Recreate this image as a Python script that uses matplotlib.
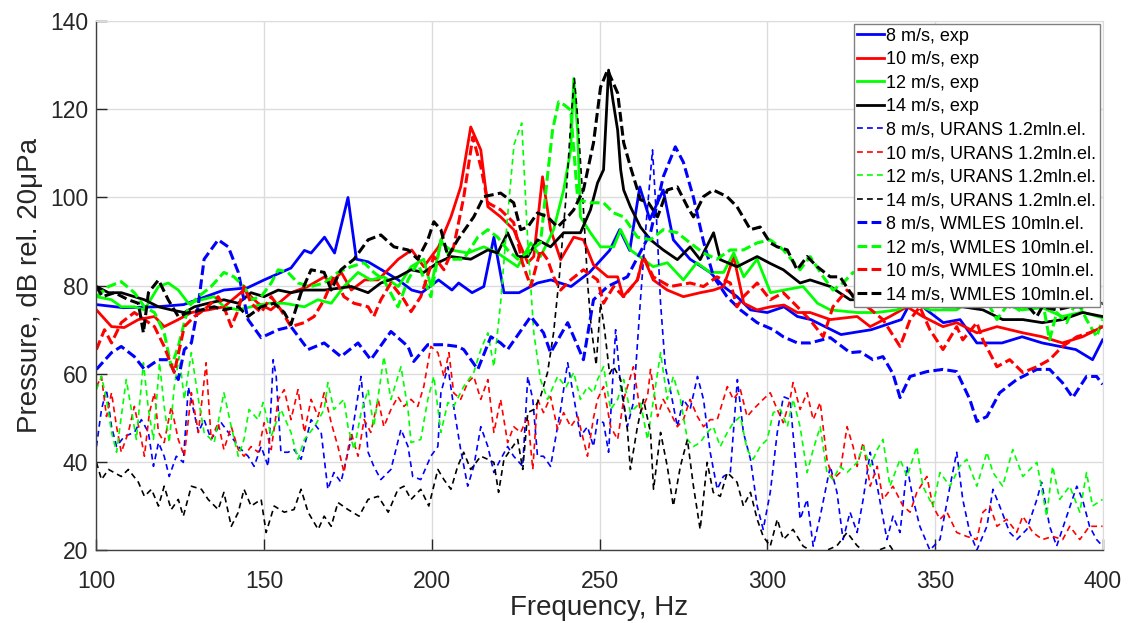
import matplotlib
matplotlib.use("Agg")
import matplotlib.pyplot as plt

plt.rcParams["font.family"] = ["Liberation Sans", "DejaVu Sans"]


# =========================================================
# Data
# =========================================================

# --- experiment ---
F_EXP_8 = [100, 108, 118, 126, 138, 145, 150, 158, 162, 164, 168, 171, 175, 177.5, 181, 185, 190, 194, 197, 202,
           206, 208, 212, 215.5, 218.5, 221.5, 226, 231.5, 235.5, 241.5, 247, 253, 256, 259, 262, 265, 269, 272,
           277, 283, 287, 291, 295, 300, 305, 309, 313, 322, 331, 340, 343.5, 347.5, 352.5, 357.5, 362.5, 370,
           376, 382, 392, 397, 400]
P_EXP_8 = [75.7, 75, 75.2, 75.7, 79, 79.5, 81.3, 84, 88, 87.4, 91, 87.4, 100, 86, 85.4, 83.6, 81.3, 79, 78.4, 81.3,
           79, 80.6, 78.4, 79.8, 91, 78.4, 78.4, 80.6, 81.3, 79.8, 83, 88, 92.7, 88, 102.4, 95, 101.7, 90.4,
           86, 83, 79.8, 77.5, 74.5, 73.9, 75.2, 73, 72.3, 68.9, 70, 72.3, 77.3, 74.5, 71.6, 72.3, 67, 67,
           68.4, 67, 65.5, 63.2, 67.7]

F_EXP_10 = [100, 104.5, 108.3, 112.5, 117.3, 120.2, 124.4, 128.3, 133.3, 138, 144, 148.2, 152, 158, 163, 168, 170,
            173, 176, 180, 184, 190, 194, 197.6, 202, 205.7, 208.6, 211.6, 214.6, 216.7, 220.5, 224.4, 228.6,
            230.4, 233, 235.4, 238.4, 242.3, 245.2, 248.2, 252.4, 255.4, 257, 261.3, 263, 266, 270.2, 275, 280,
            284, 287, 290, 293, 297, 301, 305, 309, 312.8, 318.8, 326.8, 330.7, 336.6, 341.7, 346.4, 352.4,
            356.5, 362.5, 368.5, 376.2, 382, 388, 394, 400]
P_EXP_10 = [74.5, 70.7, 70.5, 72.3, 73, 70.7, 72.3, 73.9, 74.5, 75.2, 79, 76, 74.5, 78.4, 79.8, 82, 80.6,
            83, 79, 81.3, 81.3, 86, 88.1, 84.3, 88.8, 95.6, 102.4, 116, 110.8, 97.9, 95.6, 92.7, 85.2,
            86.6, 104.7, 92.7, 85.9, 91, 90.4, 84.7, 82, 82, 77.5, 81.3, 86.6, 81.3, 79, 77.5, 78.4,
            79, 79.8, 86.6, 76, 74.5, 75.2, 75.6, 73.9, 73.9, 72.3, 73, 70.7, 73, 75.2, 73, 70.7,
            71.6, 69.3, 70.7, 69.3, 68.4, 67, 68.4, 70.7]

F_EXP_12 = [100, 104.5, 107.4, 111.3, 114.3, 118.5, 121.4, 124.4, 127.4, 131.3, 135.1, 138, 142.3, 146.1, 151.2,
            156, 162, 166, 170, 173.8, 178, 181.8, 185.7, 190, 193.8, 197.6, 199.7, 202.7, 205.7, 210.7, 215.5,
            219.6, 225.6, 229.5, 232.4, 236.3, 239.3, 241.4, 242.3, 243.5, 244.3, 247.3, 250.3, 254.2, 256.3,
            259.2, 263, 266, 270.2, 275, 279, 283, 287, 290, 293, 297, 301, 305, 310.7, 315, 318.8, 326.8,
            332.7, 338.7, 343.5, 348.5, 356.5, 360.4, 364.3, 370, 376, 382, 388, 394, 400]
P_EXP_12 = [77.5, 76.8, 75.2, 75.2, 74.5, 79.8, 80.6, 79, 76, 76.8, 77.5, 75.2, 74.5, 75.2, 76,
            76, 75.2, 76.8, 76, 79.8, 83, 81.3, 82, 79.8, 84.3, 86, 79.8, 89.7, 88.1, 87.4, 88.8,
            87.4, 84.3, 89.7, 86.6, 92.7, 101.7, 110.8, 127, 114.6, 95.6, 92, 88.8, 88.8, 92.7,
            88.1, 86, 84.3, 85.2, 81.3, 85.2, 83, 83, 87.4, 82, 86, 78.4, 79, 79.8, 76, 74.5, 73.9,
            73.9, 74.5, 76, 74.5, 74.5, 76.8, 78.4, 76, 74.5, 75, 73, 74, 72.7]

F_EXP_14 = [100, 103.6, 107.4, 111.3, 114.3, 118.5, 122.3, 126.2, 129.2, 133.3, 138, 142.3, 146.1, 150, 154.2,
            158, 162, 168, 176, 181, 184.8, 190, 193.8, 197.6, 201.8, 205.7, 211.6, 216.7, 219.6, 222.6, 225.6,
            228.6, 231.5, 235.4, 239.3, 244.3, 247.3, 249.4, 251.2, 252.7, 254, 255.4, 256.3, 257.2, 259.2,
            262.2, 265.2, 269, 273.2, 277, 280, 284, 286, 291, 297, 301, 304.8, 309.8, 312.8, 318.8, 324.7,
            330.7, 338, 346.4, 352.4, 358.3, 364.3, 370.2, 376.2, 382, 388, 394, 400]
P_EXP_14 = [79.8, 78.4, 78.4, 77.5, 76.8, 75.2, 74.5, 73.9, 75.2, 76, 76.8, 76, 78.4, 77.5, 79,
            78.4, 79, 79, 79.8, 78.4, 80.6, 82, 83.6, 83, 85.2, 86.6, 86, 88.1, 87.4, 92, 86.6,
            86.6, 90.4, 88.8, 92, 92, 97.2, 103.3, 106.3, 128.9, 122, 115.3, 106.3, 101.7, 97.9,
            93.3, 90.4, 88.1, 85.9, 88.8, 85.9, 92, 85.9, 84.3, 86.6, 85, 83.6, 80.6, 81.3, 79.8, 76.8,
            76.8, 77, 76, 75.2, 75.2, 74.5, 72.3, 72.3, 71.6, 72.3, 73.9, 73]

# --- URANS 1.2 mln elements ---
F_URANS_8 = [100, 101.5, 103, 104.5, 106, 108.3, 111.3, 113.4, 115.5, 117,
             118.5, 120.2, 121.7, 123.8, 125.9, 127.4, 130.4, 132.1, 134.2, 137.2,
             140.2, 142.3, 145.2, 147, 149.1, 151.2, 152.7, 153.6, 155, 157.1,
             158.9, 161, 164, 167, 169, 170.8, 172.9, 175.9, 178.9, 181,
             182.7, 184.8, 187.8, 190.8, 192.9, 194.3, 196.7, 199.7, 201.8, 202.7,
             204.8, 206.5, 208.6, 210.7, 212.5, 214.6, 216.7, 218.5, 220.5, 222.6,
             224.4, 227.1, 228.6, 230.1, 231.5, 233.3, 235.4, 238.4, 240.5, 242.3,
             244.3, 246.4, 248.2, 249.4, 251.2, 252.7, 254.8, 256.3, 258.3, 260.1,
             262.2, 264, 265.8, 267, 268.2, 269.6, 271.1, 273.2, 275, 277,
             279.2, 281, 283, 285.1, 286.9, 289, 291.1, 292.9, 295, 297,
             298.8, 300.9, 303, 304.8, 306.8, 308.9, 309.8, 311.9, 313.7, 315.8,
             318.8, 320.8, 322.6, 324.7, 326.8, 328.6, 330.7, 332.8, 335.7, 337.5,
             339.6, 341.7, 343.5, 345.5, 348.5, 351.5, 354.5, 356.5, 358.3, 360.4,
             362.5, 365.5, 367.3, 369.3, 372.3, 374.4, 377.4, 380.4, 381.8, 384.2,
             386.3, 389.3, 392.3, 394, 396.1, 398.2, 400]
P_URANS_8 = [43.5, 51.9, 56.4, 48, 43.5, 45.8, 46.7, 49.6, 46.7, 39,
             44.4, 41.3, 36.7, 41.3, 39.9, 57, 46.7, 49.6, 45.1, 48.9,
             45.8, 43.5, 41.3, 39, 43.5, 39, 63.2, 59.4, 42.2, 42.2,
             42.8, 40.6, 49.6, 46.7, 33.8, 37.6, 35.4, 45.1, 59.4, 42.2,
             39, 36, 38.3, 47.4, 43.5, 36.7, 36, 41.3, 43.5, 55.7,
             61.6, 52.6, 42.8, 34.5, 39, 48, 43.5, 37.6, 40.6, 43.5,
             41.3, 39, 59.4, 54.2, 41.3, 41.3, 39, 51.9, 62.5, 54.8,
             45.8, 48, 43.5, 49.6, 48.9, 42.2, 70, 57.1, 48, 53.5,
             76.8, 95, 110.8, 95, 76, 61.6, 56.4, 48, 54.2, 51.9,
             59.4, 54.2, 42.2, 33.8, 36.7, 37.6, 58.7, 46.7, 40.6, 30,
             24.7, 33.1, 46.7, 54.8, 54.2, 36, 27, 31.5, 20.9, 27.7,
             39, 33.1, 22.4, 28.6, 24, 31.5, 42.2, 34.5, 22.4, 27.7,
             24, 39, 31.5, 25.4, 20, 22.4, 34.5, 42.2, 31.5, 24,
             20, 25.4, 33.8, 30, 24, 22.4, 24.7, 31.5, 35.4, 25.4,
             20.9, 27.7, 34.5, 31.5, 25.4, 22.4, 20.9]

F_URANS_10 = [100, 101.5, 103, 104.5, 106, 107.4, 109.5, 111.3, 113.4, 114.3,
              115.8, 117.3, 118.5, 120.2, 122.3, 124.4, 126.2, 128.3, 130.4, 132.7,
              134.2, 136.3, 138, 140.2, 142.3, 144, 146.1, 148.2, 150, 152.1,
              154.2, 156, 158, 160.1, 162, 164, 166.1, 167.9, 170, 172,
              173.8, 175.9, 178, 179.8, 181.8, 184, 185.7, 187.8, 189.9, 191.7,
              193.8, 195.8, 197.6, 199.7, 201.8, 203.6, 205.1, 206.5, 208.6, 210.7,
              212.5, 214.6, 216.7, 218.5, 220.5, 222.6, 224.4, 226.5, 228.6, 230.1,
              231.5, 233.3, 235.4, 237.5, 239.3, 241.4, 243.5, 246.4, 248.2, 249.4,
              251.2, 253.3, 255.4, 257.2, 260.1, 262.2, 264.3, 265.2, 267.3, 269,
              271.1, 273.2, 275, 277, 279.2, 281, 283, 285.1, 288.1, 289.9,
              292, 294, 295.8, 298.8, 300.9, 303, 304.8, 306.8, 307.7, 309.8,
              311.9, 313.7, 315.8, 317.8, 319.6, 321.7, 323.8, 325.6, 326.8, 328.6,
              330.7, 332.8, 334.5, 337.5, 340.5, 342.6, 344.6, 347.6, 349.4, 351.5,
              353.6, 356.5, 359.5, 362.5, 364.3, 366.4, 368.5, 371.4, 374.4, 376.2,
              379.2, 382.1, 385.1, 388.1, 390.2, 393.2, 396.1, 400]
P_URANS_10 = [57.1, 59.4, 50.3, 55.7, 48, 42.2, 46.7, 52.6, 45.1, 41.3,
              51.2, 55.7, 46.7, 44.4, 52.6, 45.1, 41.3, 55.7, 46.7, 62.5,
              45.1, 48.9, 42.8, 48, 42.8, 41.3, 43.5, 42.2, 48.9, 42.8,
              54.2, 56.4, 49.6, 56.4, 46.7, 54.2, 50.3, 55.7, 48.9, 43.5,
              37.6, 46.7, 41.3, 49.6, 46.7, 54.2, 48, 51.9, 54.8, 52.6,
              54.2, 52.6, 57.1, 66.2, 64.8, 59.4, 64.8, 55.7, 54.2, 58,
              59.4, 54.2, 58.7, 46.7, 54.2, 44.4, 48, 46.7, 50.3, 38.3,
              54.2, 51.2, 54.8, 47.4, 51.2, 48, 50.3, 41.3, 50, 54.2,
              57.1, 48, 45.1, 54.2, 61.6, 51.2, 54.8, 61, 50.3, 54.2,
              51.2, 48, 49.6, 54.2, 50.3, 48, 49.6, 49.6, 57.1, 54.2,
              56.4, 50.3, 51.9, 54.2, 55.7, 51.9, 48.9, 54.2, 58, 51.9,
              55.7, 49.6, 53.5, 40.6, 36, 37.6, 48, 43.5, 39, 44.4,
              34.5, 39, 31.5, 34.5, 30, 28.6, 33.1, 36.7, 30, 27,
              28.6, 24, 23.1, 22.4, 28.6, 30, 25.4, 27, 24, 27.7,
              24, 22.4, 23.1, 22.4, 25.4, 22.4, 25.4, 25.4]

F_URANS_12 = [100, 101.5, 103, 104.5, 106, 107.4, 108.9, 110.4, 111.9, 114,
              115.5, 117, 118.8, 120.2, 121.7, 123.2, 124.7, 126.2, 128.3, 130.4,
              132.1, 135.1, 138, 140.2, 142.3, 144, 145.5, 148.2, 149.7, 152.1,
              155, 158, 160.1, 162, 165, 167.9, 169, 170.8, 173.8, 175,
              176.8, 178.9, 181, 182.7, 185.7, 187.8, 190.8, 192.9, 193.8, 196.7,
              198.8, 200.6, 202.7, 204.8, 206.5, 209.5, 212.5, 214.6, 216.7, 218.5,
              220.5, 222.5, 224.5, 226.8, 228.6, 230.4, 232.4, 234.5, 237.5, 240,
              242.3, 244.3, 246.4, 248.2, 249.4, 251.2, 253.3, 255.4, 257.2, 259.2,
              262.2, 264.3, 266.1, 268.2, 270.2, 272, 274.1, 276.2, 278, 280,
              282.1, 283.9, 286, 288.1, 289.9, 292, 294, 295.8, 297.9, 300,
              301.8, 303.9, 306, 307.7, 309.8, 311.9, 313.7, 315.8, 317.8, 319.6,
              321.7, 323.8, 326.8, 328.6, 330.7, 332.8, 334.5, 336.6, 339.6, 341.7,
              344.6, 346.4, 349.4, 351.5, 354.5, 357.4, 359.5, 362.5, 365.5, 367.3,
              370.2, 373.2, 376.2, 380.4, 383.3, 385.1, 387.2, 390.2, 393.2, 395.2,
              397, 400]
P_URANS_12 = [56.4, 59.4, 54.2, 46.7, 42.2, 50.3, 58.7, 51.9, 45.1, 62.5,
              51.9, 45.1, 62.5, 52.6, 44.4, 57.1, 63.9, 54.2, 64.8, 54.2,
              46.7, 44.4, 55.7, 48, 41.3, 45.1, 51.9, 49.6, 53.5, 45.8,
              51.9, 46.7, 40.6, 45.1, 48, 51.9, 58, 51.9, 54.2, 48,
              42.8, 51.2, 56.4, 48, 63.9, 54.2, 61.6, 51.9, 44.4, 45.1,
              54.2, 59.4, 46.7, 53.5, 52.6, 57.1, 60.3, 65.5, 69.3, 61.6,
              76, 95, 112, 116.9, 90, 69.3, 58.7, 54.2, 59.4, 57,
              60.3, 54.2, 57.1, 55.7, 58.7, 61.6, 51.9, 54.2, 58.7, 51.2,
              53.5, 45.1, 54.2, 64.8, 54.2, 59.4, 54.2, 45.1, 43.5, 44.4,
              46.7, 48, 43.5, 46.7, 48.9, 50.3, 42.8, 40.6, 43.5, 45.1,
              51.2, 51.9, 48, 54.2, 48, 37.6, 42.8, 48, 37.6, 36,
              39, 37.6, 39.9, 43.5, 39, 42.8, 45.1, 34.5, 40.6, 36.7,
              43.5, 34.5, 30, 37.6, 34.5, 39, 40.6, 34.5, 42.2, 37.6,
              34.5, 42.8, 36.7, 39.9, 27.7, 39, 31.5, 34.5, 28.6, 37.6,
              30, 31.5]

F_URANS_14 = [100, 101.5, 103.6, 107.4, 109.5, 112.5, 114.3, 116.4, 118.5, 120.2,
              122.3, 124.4, 125.9, 128.3, 131.3, 133.3, 136.3, 138, 140.2, 142.3,
              144, 146.1, 149.1, 150.6, 153, 156, 158.9, 161, 163.1, 166.1,
              167.9, 170, 172, 175, 178.3, 181, 184, 187, 189.9, 191.7,
              193.8, 196.7, 199.1, 201.8, 203.6, 205.7, 207.7, 209.5, 211.6, 214.6,
              216.7, 218.5, 219.9, 221.5, 223.5, 225.6, 227.1, 228.6, 230.4, 232.4,
              234.5, 236.3, 238, 240, 241.5, 242.5, 243.5, 245, 246.5, 247.5,
              249, 250.3, 251.5, 253, 254.2, 256.3, 258.3, 259.2, 261.3, 263.1,
              265.2, 266.1, 268.2, 270.2, 272, 274.1, 276.2, 278, 280, 282.1,
              283.9, 286, 288.1, 291, 292.9, 295, 297, 298.8, 300.9, 303,
              304.8, 307.7, 310.7, 315, 320.8, 323.8, 326.8, 330, 336.6, 340]
P_URANS_14 = [39.9, 36, 38.3, 36.7, 38.3, 35.4, 32.2, 33.8, 30, 34.5,
              29.2, 31.5, 27.7, 34.5, 33.8, 31.5, 29.2, 33.1, 25.4, 28.6,
              33.8, 30, 31.5, 24, 30, 28.6, 29.2, 33.8, 28.6, 24.7,
              27.7, 25.4, 30.8, 29.2, 27.7, 31.5, 32.2, 28.6, 33.8, 34.5,
              31.5, 33.8, 30, 38.3, 36, 33.8, 39, 42.2, 38.3, 41.3,
              40.6, 39.9, 33.1, 40.6, 42.8, 45.1, 38.3, 51.2, 51.9, 54.8,
              60.3, 69.3, 82, 100, 118, 127, 118, 100, 80, 70.7,
              62, 76, 70, 60, 61.6, 58.7, 47.4, 38.3, 48, 54.2,
              46.7, 33.8, 46.7, 39, 30, 39, 45.1, 34.5, 24.7, 39.9,
              33.1, 32.2, 37.6, 35.4, 30, 33.1, 27, 23.1, 20.9, 27,
              22.4, 24.7, 20.9, 19, 21, 24, 21, 19, 21, 17]

# --- WMLES 10 mln elements ---
F_WMLES_8 = [100, 104.5, 107.4, 111.3, 114.3, 118.5, 121.4, 124.4, 126.2, 128.3,
             130.3, 132.1, 136.3, 139.3, 142.3, 145.2, 149.1, 154.2, 158, 163.1,
             167.9, 172.9, 178, 181.8, 187.8, 192.9, 194.6, 198.8, 203.6, 207.7,
             209.5, 213.7, 217.6, 220.5, 222.6, 229.5, 233.3, 235.4, 240.5, 245.2,
             248.2, 252.4, 258.3, 265.2, 269, 272.6, 275, 278, 281, 284,
             288, 292, 297, 301.8, 304.8, 309, 312.8, 318.8, 324.7, 327.7,
             331.5, 334.5, 337.5, 339.6, 342.6, 347.6, 352.4, 356.5, 360.4, 362.5,
             365.5, 369.3, 374.4, 380.4, 384.2, 388, 391.1, 395.2, 398.2, 400]
P_WMLES_8 = [61, 64.8, 66.2, 63.9, 61, 63.2, 63.2, 58.7, 65.5, 67,
             75.2, 86, 90.4, 88.8, 83, 72.3, 68.2, 70, 70.7, 65.5,
             67, 63.9, 67, 63.2, 69.6, 66.2, 62.8, 66.6, 66.6, 66.2,
             65.5, 61, 68.4, 67, 65.5, 73, 69.3, 64.8, 71.6, 63.2,
             76.8, 79.8, 82, 92, 104.7, 111.5, 108, 100, 90, 82,
             77.5, 74.5, 71.6, 70, 68.4, 67, 67, 68.2, 64.8, 65,
             63.2, 63.9, 60, 54.6, 59.4, 60.5, 61, 60.5, 54.2, 49.2,
             50.3, 55.7, 58.7, 61, 61, 58, 54.6, 59.4, 59.4, 57.6]

F_WMLES_12 = [100, 103.6, 107.4, 111.3, 114.3, 117.3, 120.2, 122.3, 124.4, 127.4,
              130.4, 134.2, 138, 141, 144, 146.1, 149.1, 152.1, 154.2, 157.1,
              160.1, 163.9, 167.9, 172, 175.9, 179.8, 182.7, 185.7, 189.9, 192.9,
              195.8, 199.7, 202.7, 205.7, 209.5, 213.7, 216.7, 219.6, 222.6, 225.6,
              229.5, 232.4, 234.5, 236, 237.8, 239.5, 241.4, 243.5, 247.3, 251.2,
              254.2, 257.2, 261.3, 265.2, 269, 273.2, 277, 281, 285, 289,
              292.9, 297, 300.9, 304.8, 309.8, 312.8, 316.7, 319.6, 322.6, 325.6,
              330, 335, 340, 345, 350, 355, 360, 363, 366.4, 368.5,
              372, 376, 379, 382, 384.2, 386.3, 389.3, 392.3, 395.2, 398.2,
              400]
P_WMLES_12 = [77.5, 79.8, 80.9, 78.4, 75.2, 73.9, 69.3, 61.6, 66.2, 75.2,
              77.5, 79.8, 83, 82, 79.8, 76.8, 77.5, 80.6, 83.6, 83,
              80.6, 79.8, 80.6, 83, 84.3, 85.2, 83, 81.3, 75.2, 81.3,
              85.2, 77.5, 90.4, 86, 86, 91, 92.7, 91, 88.1, 86,
              88.1, 89.7, 105, 115.3, 121.7, 121, 119.8, 99.5, 98.8, 98.8,
              96.5, 95.6, 91, 90.4, 92.7, 92, 89.7, 87.4, 86, 88.1,
              88.1, 89.7, 90.4, 88.1, 83.6, 86.6, 82, 79, 80.6, 83,
              81, 83, 80, 82, 79, 81, 78, 79, 75.2, 72.3,
              76, 74, 78, 76.8, 67.7, 73.9, 71.6, 76.8, 72.3, 68.4,
              72.3]

F_WMLES_10 = [100, 102.4, 104.5, 107.4, 111.3, 114.3, 117.3, 120.2, 123.2, 126.2,
              129.2, 132.1, 136.3, 138, 140.2, 142.3, 144, 146.1, 149.1, 152.1,
              155, 158, 161.9, 164.9, 167.9, 170.8, 173.8, 176.8, 181, 182.7,
              184.8, 187.8, 191.7, 193.8, 196.7, 200.6, 203.6, 206.5, 209.5, 212.2,
              214.6, 216.7, 220.5, 224.4, 227, 229.5, 232.4, 234.5, 236.3, 238.4,
              241.4, 245.2, 249.4, 251.2, 254.2, 257.2, 261.3, 263.1, 266, 271,
              277, 281, 285, 289, 291, 292.9, 297, 300.9, 304.8, 309,
              313, 316.7, 319.6, 323.8, 328.6, 334.5, 339.6, 342.6, 345.5, 348.5,
              352.4, 356.5, 358.3, 362.5, 364.3, 368.5, 372.3, 376.2, 380.4, 384.2,
              388, 392.3, 396.1, 400]
P_WMLES_10 = [65.5, 70, 67, 71.6, 73.9, 72.3, 70.7, 66.2, 60.3, 70.7,
              73, 74.5, 77.5, 75.2, 70.7, 74.5, 79.8, 76, 73.9, 77.5,
              74.5, 70.7, 71.6, 73, 76.8, 82, 77.5, 76, 75.2, 73,
              76.8, 80.6, 76.8, 74.1, 77.5, 86.6, 83.6, 88.8, 100, 113.7,
              107, 98.8, 97.2, 94.3, 85.2, 79.8, 88.1, 85.9, 82, 79,
              81.3, 83.6, 81.3, 76, 79.8, 77.5, 81.3, 86.6, 82, 79.8,
              80.6, 79.8, 82, 80.6, 75.2, 77.5, 80.6, 76.8, 78.4, 75.2,
              72, 68.4, 75.2, 79, 76, 72.3, 66.2, 72.3, 75.2, 70,
              65.5, 70.7, 67.7, 71.6, 67.7, 61.6, 63.2, 60.3, 61.6, 63.2,
              66.2, 68.4, 69.3, 70.7]

F_WMLES_14 = [100, 101.8, 105.4, 109.5, 112.5, 114, 115.5, 118.5, 121.4, 124.4,
              127.4, 131.3, 135.1, 138, 142.3, 145.2, 149.1, 153, 156, 158,
              161, 164, 167.9, 170, 172.9, 176.8, 181, 184.8, 188.7, 192.9,
              195.8, 198.8, 200.6, 202.7, 204.8, 207.7, 212.5, 215.5, 220.5, 224.4,
              226.5, 228.6, 231.5, 234.5, 237.5, 240.5, 242.3, 245.2, 248.2, 250.3,
              252.4, 255.4, 257.2, 259.2, 262.2, 264.6, 267.3, 270.2, 273.2, 276.2,
              278, 281, 283.9, 288, 291, 295, 297.9, 300.9, 303, 306,
              308.9, 311.9, 314.9, 318.8, 321.7, 325.6, 330, 335, 340, 345,
              350, 355, 360, 365, 369, 372.3, 376.2, 380.4, 382, 386.3,
              390.2, 394, 400]
P_WMLES_14 = [79.8, 77.5, 78.4, 76.8, 76, 69.3, 78.4, 81.3, 76.8, 73,
              73.9, 74.5, 75.2, 74.5, 75.2, 73, 75.2, 76, 73.9, 71.2,
              78.4, 83.6, 83, 79, 83.6, 86, 90.4, 91.5, 88.8, 88.1,
              86, 90.4, 94.5, 92.7, 86.6, 90.4, 95.6, 100.2, 101, 98.8,
              92.7, 93.3, 96.5, 95.6, 93.3, 95.6, 97.2, 101.7, 112.4, 125,
              128.9, 123.7, 112.4, 107, 99.5, 98.8, 95.6, 101.7, 102.4, 97.9,
              95.6, 100.2, 101.7, 100.2, 97.9, 92.7, 93.3, 89.7, 88.8, 88.1,
              83.6, 86.6, 84.3, 82, 82, 77.5, 79, 78, 80, 79,
              78, 77, 78, 77, 76, 75.2, 76.8, 73, 75.2, 74.5,
              75.2, 75.2, 76]


# =========================================================
# Styles
# =========================================================

STYLES = {
    "exp": dict(linestyle="-", linewidth=2.0),
    "urans": dict(linestyle=(0, (3.5, 2.5)), linewidth=1.2),
    "wmles": dict(linestyle=(0, (3.2, 1.4)), linewidth=2.2),
}

SERIES = [
    ("8 m/s, exp", F_EXP_8, P_EXP_8, "#0000ff", "exp"),
    ("10 m/s, exp", F_EXP_10, P_EXP_10, "#ff0000", "exp"),
    ("12 m/s, exp", F_EXP_12, P_EXP_12, "#00ff00", "exp"),
    ("14 m/s, exp", F_EXP_14, P_EXP_14, "#000000", "exp"),
    ("8 m/s, URANS 1.2mln.el.", F_URANS_8, P_URANS_8, "#0000ff", "urans"),
    ("10 m/s, URANS 1.2mln.el.", F_URANS_10, P_URANS_10, "#ff0000", "urans"),
    ("12 m/s, URANS 1.2mln.el.", F_URANS_12, P_URANS_12, "#00ff00", "urans"),
    ("14 m/s, URANS 1.2mln.el.", F_URANS_14, P_URANS_14, "#000000", "urans"),
    ("8 m/s, WMLES 10mln.el.", F_WMLES_8, P_WMLES_8, "#0000ff", "wmles"),
    ("12 m/s, WMLES 10mln.el.", F_WMLES_12, P_WMLES_12, "#00ff00", "wmles"),
    ("10 m/s, WMLES 10mln.el.", F_WMLES_10, P_WMLES_10, "#ff0000", "wmles"),
    ("14 m/s, WMLES 10mln.el.", F_WMLES_14, P_WMLES_14, "#000000", "wmles"),
]

X_TICKS = [100, 150, 200, 250, 300, 350, 400]
Y_TICKS = [20, 40, 60, 80, 100, 120, 140]

TEXT_COLOR = "#262626"


# =========================================================
# Plot
# =========================================================

fig = plt.figure(figsize=(11.28, 6.23), dpi=100)
ax = fig.add_axes([0.0855, 0.117, 0.892, 0.849])

for label, freq, level, color, kind in SERIES:
    ax.plot(freq, level, color=color, label=label, **STYLES[kind])

ax.set_xlim(100, 400)
ax.set_ylim(20, 140)
ax.set_xticks(X_TICKS)
ax.set_yticks(Y_TICKS)

ax.grid(True, color="#dcdcdc", linewidth=1.0)
ax.set_axisbelow(True)

ax.tick_params(
    axis="both",
    direction="in",
    length=8,
    width=1,
    colors=TEXT_COLOR,
    labelsize=16.5,
)
ax.tick_params(axis="x", pad=14)
ax.tick_params(axis="y", pad=6)

for side in ("left", "bottom"):
    ax.spines[side].set_color("#404040")
    ax.spines[side].set_linewidth(1.0)

for side in ("top", "right"):
    ax.spines[side].set_color("#dcdcdc")

ax.set_xlabel("Frequency, Hz", fontsize=20, color=TEXT_COLOR, labelpad=2)
ax.set_ylabel("Pressure, dB rel. 20μPa", fontsize=20, color=TEXT_COLOR, labelpad=5)

leg = ax.legend(
    loc="upper right",
    fontsize=13,
    frameon=True,
    fancybox=False,
    framealpha=1,
    edgecolor="#808080",
    borderpad=0.2,
    labelspacing=0.36,
    handlelength=1.45,
    handletextpad=0.15,
    borderaxespad=0.15,
)
leg.get_frame().set_linewidth(1.0)

fig.savefig("out.png", dpi=100)
